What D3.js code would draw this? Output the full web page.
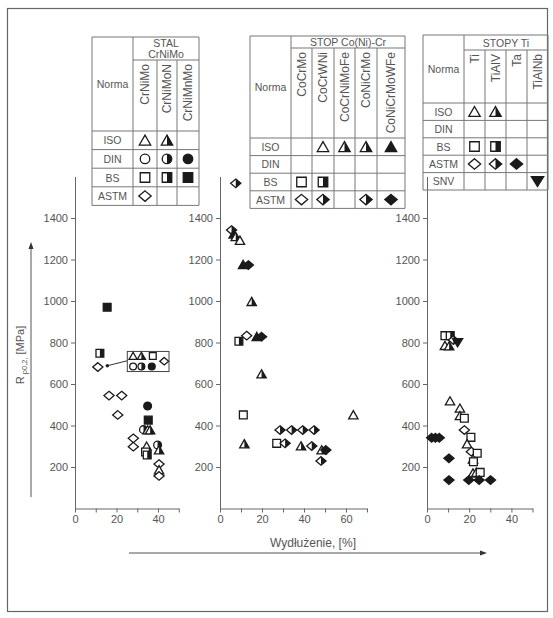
<!DOCTYPE html>
<html>
<head>
<meta charset="utf-8">
<script src="https://cdn.jsdelivr.net/npm/d3@7/dist/d3.min.js"></script>
<style>
  body { margin: 0; background: #fff; }
  svg { font-family: "Liberation Sans", Arial, sans-serif; }
  .axis path, .axis line { stroke: #666; }
  .axis text { fill: #555; font-size: 11px; }
</style>
</head>
<body>
<svg id="chart" width="553" height="618"></svg>
<script>
// --- data (elongation %, Rp0.2 MPa, symbol) ---
const steelPts = [
  [15.5, 970, "sq-f"], [12, 748, "sq-h"], [11, 682, "dia"],
  [16.4, 544, "dia"], [22.5, 544, "dia"], [20.6, 451, "dia"],
  [28.1, 338, "dia"], [28.1, 298, "dia"],
  [35, 494, "circ-f"], [35.3, 426, "sq-f"],
  [33, 380, "circ-h"], [35, 378, "tri"], [36.2, 378, "tri-h"],
  [34.5, 300, "tri"], [34, 272, "sq"], [34.8, 258, "sq-h"],
  [39.8, 306, "circ-h"], [40.5, 282, "tri-h"], [40.5, 214, "dia"], [40.5, 186, "tri"], [40.5, 157, "dia"]
];
// points gathered in the small box (drawn smaller)
const steelBoxPts = [
  [28, 735, "tri"], [32, 735, "tri-h"], [37.5, 735, "sq"],
  [28, 684, "circ"], [32, 684, "circ-h"], [37, 684, "circ-f"], [43, 710, "dia"]
];
const cocrPts = [
  [7.5, 1567, "dia-h"],
  [5.5, 1342, "dia-h"], [6.5, 1322, "tri-f"], [7.5, 1310, "tri-h"], [9.5, 1292, "tri"],
  [11, 1175, "tri-f"], [13.5, 1173, "dia-f"],
  [15.1, 997, "tri-h"],
  [9, 806, "sq-h"], [12.7, 833, "dia"], [17.5, 828, "tri-f"], [19.8, 828, "dia-f"],
  [19.8, 648, "tri-h"],
  [11.1, 451, "sq"], [63.5, 451, "tri"],
  [28.6, 378, "dia-h"], [34.1, 378, "dia-h"], [39.4, 378, "dia-h"], [44.8, 378, "dia-h"],
  [11.6, 311, "tri-h"], [27, 314, "sq"], [31, 314, "dia-h"],
  [38.6, 301, "tri-h"], [43.7, 301, "dia-h"],
  [48.4, 282, "tri-h"], [50.4, 282, "dia-f"],
  [48.1, 229, "dia-h"]
];
const tiPts = [
  [8.5, 833, "sq"], [11, 833, "sq-h"], [12.5, 812, "dia-h"], [14.5, 800, "inv-f"],
  [8.5, 785, "tri"], [10.5, 783, "tri-h"],
  [10.9, 518, "tri"], [15.6, 483, "tri"], [15.6, 447, "tri"], [17.7, 435, "sq"],
  [17.7, 378, "dia"], [20.8, 343, "sq"], [19, 311, "tri"], [21, 274, "dia"],
  [23.8, 266, "sq"], [21.8, 237, "tri"], [22, 225, "sq"],
  [21.8, 170, "tri"], [23.4, 174, "tri"], [25.2, 174, "sq"],
  [2.2, 341, "dia-f"], [4, 341, "dia-f"], [5.8, 341, "dia-f"],
  [10.4, 242, "dia-f"], [10.4, 137, "dia-f"],
  [19.8, 137, "dia-f"], [24.7, 137, "dia-f"], [30.1, 137, "dia-f"]
];
// boxed group in steel panel: [x0, x1, y0, y1] and arrow [fromX, fromY, toX, toY]
const steelBox = [25.2, 45.3, 660, 757];
const steelArrow = [25.2, 712, 15.6, 688];

const yTicks = [200, 400, 600, 800, 1000, 1200, 1400];
const xMax = [50, 70, 50];

// legend tables
const steelHead = ["STAL", "CrNiMo"];
const steelCols = ["CrNiMo", "CrNiMoN", "CrNiMnMo"];
const steelRows = ["ISO", "DIN", "BS", "ASTM"];
const steelCells = [["tri", "tri-h", ""], ["circ", "circ-h", "circ-f"], ["sq", "sq-h", "sq-f"], ["dia", "", ""]];

const cocrHead = ["STOP Co(Ni)-Cr"];
const cocrCols = ["CoCrMo", "CoCrWNi", "CoCrNiMoFe", "CoNiCrMo", "CoNiCrMoWFe"];
const cocrRows = ["ISO", "DIN", "BS", "ASTM"];
const cocrCells = [["", "tri", "tri-h", "tri-h", "tri-f"], ["", "", "", "", ""], ["sq", "sq-h", "", "", ""], ["dia", "dia-h", "", "dia-h", "dia-f"]];

const tiHead = ["STOPY Ti"];
const tiCols = ["Ti", "TiAlV", "Ta", "TiAlNb"];
const tiRows = ["ISO", "DIN", "BS", "ASTM", "SNV"];
const tiCells = [["tri", "tri-h", "", ""], ["", "", "", ""], ["sq", "sq-h", "", ""], ["dia", "dia-h", "dia-f", ""], ["", "", "", "inv-f"]];

// --- drawing ---
const svg = d3.select("#chart");
const ink = "#1a1a1a";
const lineCol = "#777";
const txtCol = "#555";

svg.append("rect").attr("x", 7.5).attr("y", 8.5).attr("width", 540).attr("height", 603)
  .attr("fill", "none").attr("stroke", "#666").attr("stroke-width", 1.2);

// marker shapes: outline path + optional right-half path
function shape(kind) {
  const base = kind.split("-")[0];
  let outline, half;
  if (base === "tri") {
    outline = "M0,-5.5L6,5L-6,5Z"; half = "M0,-5.5L6,5L0,5Z";
  } else if (base === "inv") {
    outline = "M-6.5,-5L6.5,-5L0,5.5Z"; half = outline;
  } else if (base === "sq") {
    outline = "M-5,-5H5V5H-5Z"; half = "M0,-5H5V5H0Z";
  } else if (base === "circ") {
    outline = "M0,-5A5,5 0 1,1 0,5A5,5 0 1,1 0,-5Z"; half = "M0,-5A5,5 0 0,1 0,5Z";
  } else {
    outline = "M0,-5.5L6.5,0L0,5.5L-6.5,0Z"; half = "M0,-5.5L6.5,0L0,5.5Z";
  }
  return { outline, half };
}

function drawMarker(g, kind, x, y, k = 1) {
  if (!kind) return;
  const s = shape(kind);
  const m = g.append("g").attr("transform", `translate(${x},${y}) scale(${k})`);
  const filled = kind.endsWith("-f");
  m.append("path").attr("d", s.outline)
    .attr("fill", filled ? ink : "#fff").attr("stroke", ink).attr("stroke-width", 1.3 / k);
  if (kind.endsWith("-h")) m.append("path").attr("d", s.half).attr("fill", ink);
}

const y = d3.scaleLinear().domain([0, 1600]).range([508.5, 176.5]);
const panels = [
  { pts: steelPts, x: d3.scaleLinear().domain([0, xMax[0]]).range([75, 75 + xMax[0] * 2.075]) },
  { pts: cocrPts, x: d3.scaleLinear().domain([0, xMax[1]]).range([220, 220 + xMax[1] * 2.1]) },
  { pts: tiPts, x: d3.scaleLinear().domain([0, xMax[2]]).range([427, 427 + xMax[2] * 2.11]) }
];

panels.forEach((p, i) => {
  const g = svg.append("g");
  g.append("g").attr("class", "axis").attr("transform", `translate(${p.x(0)},0)`)
    .call(d3.axisLeft(y).tickValues(yTicks).tickSize(4).tickSizeOuter(0).tickFormat(d3.format("d")));
  g.append("g").attr("class", "axis").attr("transform", `translate(0,${y(0)})`)
    .call(d3.axisBottom(p.x).tickValues(d3.range(0, xMax[i] + 1, 10)).tickSize(4).tickSizeOuter(0)
      .tickFormat(d => d % 20 === 0 ? d : ""));
  const mk = g.append("g");
  p.pts.forEach(d => drawMarker(mk, d[2], p.x(d[0]), y(d[1]), 0.78));
});

// boxed group + arrow in steel panel
{
  const x = panels[0].x;
  svg.append("rect").attr("x", x(steelBox[0])).attr("y", y(steelBox[3]))
    .attr("width", x(steelBox[1]) - x(steelBox[0])).attr("height", y(steelBox[2]) - y(steelBox[3]))
    .attr("fill", "none").attr("stroke", "#444").attr("stroke-width", 1);
  svg.append("line").attr("x1", x(steelArrow[0])).attr("y1", y(steelArrow[1]))
    .attr("x2", x(steelArrow[2])).attr("y2", y(steelArrow[3])).attr("stroke", "#333");
  svg.append("circle").attr("cx", x(steelArrow[2])).attr("cy", y(steelArrow[3])).attr("r", 1.8).attr("fill", "#222");
  const bg = svg.append("g");
  steelBoxPts.forEach(d => drawMarker(bg, d[2], x(d[0]), y(d[1]), 0.68));
}

// axis titles with arrows
svg.append("line").attr("x1", 31).attr("y1", 497).attr("x2", 31).attr("y2", 247).attr("stroke", "#555");
svg.append("path").attr("d", "M31,242L28.5,249L33.5,249Z").attr("fill", "#333");
const yt = svg.append("text").attr("transform", "translate(24,355) rotate(-90)")
  .attr("text-anchor", "middle").attr("fill", txtCol).attr("font-size", 11);
yt.append("tspan").text("R");
yt.append("tspan").attr("font-size", 7.5).attr("dy", 3).text(" p0,2,");
yt.append("tspan").attr("dy", -3).text(" [MPa]");

svg.append("line").attr("x1", 129).attr("y1", 553).attr("x2", 481).attr("y2", 553).attr("stroke", "#555");
svg.append("path").attr("d", "M487,553L480,550.5L480,555.5Z").attr("fill", "#333");
svg.append("text").attr("x", 313).attr("y", 547).attr("text-anchor", "middle")
  .attr("fill", txtCol).attr("font-size", 12).text("Wydłużenie, [%]");

// legend tables
function table(opt) {
  const g = svg.append("g");
  const xs = [opt.x0, opt.x0 + opt.normaW];
  opt.colW.forEach(w => xs.push(xs[xs.length - 1] + w));
  const ys = [opt.top, opt.headB, opt.colB];
  opt.rows.forEach(() => ys.push(ys[ys.length - 1] + opt.rowH));
  const right = xs[xs.length - 1], bottom = ys[ys.length - 1];
  const ln = (x1, y1, x2, y2) => g.append("line").attr("x1", x1).attr("y1", y1).attr("x2", x2).attr("y2", y2)
    .attr("stroke", lineCol).attr("stroke-width", 1);
  ln(xs[0], ys[0], right, ys[0]);
  ln(xs[1], ys[1], right, ys[1]);
  for (let k = 2; k < ys.length; k++) ln(xs[0], ys[k], right, ys[k]);
  ln(xs[0], ys[0], xs[0], bottom);
  ln(xs[1], ys[0], xs[1], bottom);
  for (let k = 2; k < xs.length - 1; k++) ln(xs[k], ys[1], xs[k], bottom);
  ln(right, ys[0], right, bottom);

  // group header
  const hc = (xs[1] + right) / 2;
  opt.head.forEach((t, k) => {
    const lh = (ys[1] - ys[0]) / opt.head.length;
    g.append("text").attr("x", hc).attr("y", ys[0] + lh * k + lh / 2 + 4)
      .attr("text-anchor", "middle").attr("fill", txtCol).attr("font-size", 10.5).text(t);
  });
  g.append("text").attr("x", (xs[0] + xs[1]) / 2).attr("y", (ys[0] + ys[2]) / 2 + 4)
    .attr("text-anchor", "middle").attr("fill", txtCol).attr("font-size", 10.5).text("Norma");
  // rotated column headers
  opt.cols.forEach((c, k) => {
    const cx = (xs[k + 1] + xs[k + 2]) / 2 + 4;
    g.append("text").attr("transform", `translate(${cx},${ys[1] + 4}) rotate(-90)`)
      .attr("text-anchor", "end").attr("fill", txtCol).attr("font-size", 12).text(c);
  });
  // rows
  opt.rows.forEach((r, j) => {
    const cy = (ys[j + 2] + ys[j + 3]) / 2;
    g.append("text").attr("x", (xs[0] + xs[1]) / 2).attr("y", cy + 4)
      .attr("text-anchor", "middle").attr("fill", txtCol).attr("font-size", 10.5).text(r);
    opt.cells[j].forEach((kind, k) => drawMarker(g, kind, (xs[k + 1] + xs[k + 2]) / 2, cy, 0.95));
  });
}

table({ x0: 92, normaW: 41, colW: [24, 20, 22], top: 37, headB: 60, colB: 131, rowH: 18.6,
  head: steelHead, cols: steelCols, rows: steelRows, cells: steelCells });
table({ x0: 250, normaW: 41, colW: [21, 22, 21, 22, 28], top: 36, headB: 48, colB: 138, rowH: 17.6,
  head: cocrHead, cols: cocrCols, rows: cocrRows, cells: cocrCells });
table({ x0: 423, normaW: 41, colW: [21, 21, 21, 21], top: 35, headB: 50, colB: 103, rowH: 17.4,
  head: tiHead, cols: tiCols, rows: tiRows, cells: tiCells });
</script>
</body>
</html>
